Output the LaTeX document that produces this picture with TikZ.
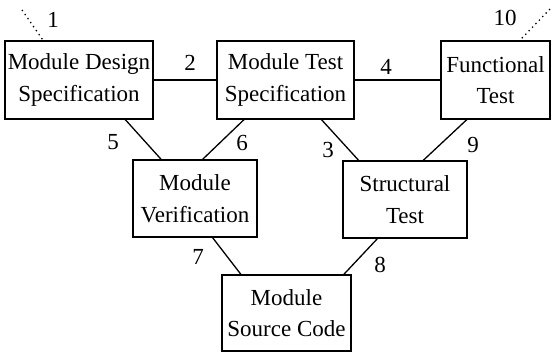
\documentclass[tikz,border=0pt]{standalone}
\usepackage{fontspec}
\setmainfont{Liberation Serif}
\usepackage{tikz}
\usetikzlibrary{calc}
\definecolor{vline}{HTML}{000000}
\tikzstyle{block} = [draw=vline, line width=1.1bp, align=center, inner sep=0pt, font=\fontsize{23bp}{31.5bp}\selectfont]
\tikzstyle{link} = [line width=1.3bp, vline]
\tikzstyle{trace} = [line width=1.3bp, vline, dash pattern=on 1.3bp off 3.6bp]
\tikzstyle{num} = [font=\fontsize{23bp}{26bp}\selectfont, inner sep=0pt]

\begin{document}
\begin{tikzpicture}[x=1bp, y=-1bp]
\useasboundingbox (0,0) rectangle (553,353);

\node[block, minimum width=148bp, minimum height=78bp] (mds) at (79,80) {Module Design\\Specification};
\node[block, minimum width=137bp, minimum height=78bp] (mts) at (285.5,80) {Module Test\\Specification};
\node[block, minimum width=109bp, minimum height=78bp] (ft) at (495.5,80) {Functional\\Test};
\node[block, minimum width=124bp, minimum height=77bp] (mv) at (195,198.5) {Module\\Verification};
\node[block, minimum width=124bp, minimum height=77bp] (st) at (405,199.5) {Structural\\Test};
\node[block, minimum width=129bp, minimum height=76bp] (msc) at (286.5,313) {Module\\Source Code};

\coordinate (t1) at (22,10);
\coordinate (t10) at (550,9);

\draw[link] (mds.east) -- (mts.west);
\draw[link] (mts.east) -- (ft.west);
\draw[link] ($(mds.south west)!0.81!(mds.south east)$) -- ($(mv.north west)!0.23!(mv.north east)$);
\draw[link] ($(mts.south west)!0.2!(mts.south east)$) -- ($(mv.north west)!0.56!(mv.north east)$);
\draw[link] ($(mts.south west)!0.76!(mts.south east)$) -- ($(st.north west)!0.13!(st.north east)$);
\draw[link] ($(ft.south west)!0.24!(ft.south east)$) -- ($(st.north west)!0.645!(st.north east)$);
\draw[link] ($(mv.south west)!0.64!(mv.south east)$) -- ($(msc.north west)!0.15!(msc.north east)$);
\draw[link] ($(st.south west)!0.28!(st.south east)$) -- ($(msc.north west)!0.94!(msc.north east)$);
\draw[trace] (t1) -- ($(mds.north west)!0.26!(mds.north east)$);
\draw[trace] (t10) -- ($(ft.north west)!0.72!(ft.north east)$);

% connector numbers
\node[num] (n1) at (53,20) {1};
\node[num] (n2) at (190,63) {2};
\node[num] (n3) at (328,150) {3};
\node[num] (n4) at (386,67) {4};
\node[num] (n5) at (113,142) {5};
\node[num] (n6) at (242,143) {6};
\node[num] (n7) at (198,257) {7};
\node[num] (n8) at (380,265) {8};
\node[num] (n9) at (473,145) {9};
\node[num] (n10) at (505,18) {10};
\end{tikzpicture}
\end{document}
